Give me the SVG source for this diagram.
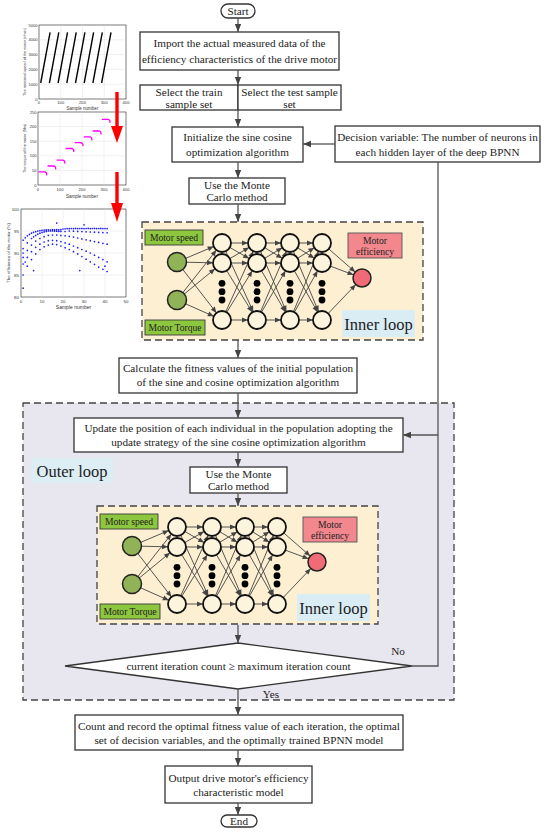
<svg xmlns="http://www.w3.org/2000/svg" xmlns:xlink="http://www.w3.org/1999/xlink" width="550" height="837" viewBox="0 0 550 837">
<defs>
<style>
.box{fill:#fff;stroke:#333;stroke-width:1.3}
.t{font-family:"Liberation Serif","Times New Roman",serif;font-size:11.2px;fill:#222;text-anchor:middle}
.big{font-size:16.5px}
.sm{font-size:9.6px}
.conn{stroke:#555;stroke-width:1.3;fill:none}
.arrowed{marker-end:url(#arr)}
.dash{stroke:#444;stroke-width:1.3;stroke-dasharray:7 4}
.nnl line{stroke:#444;stroke-width:0.9}
.nnl{marker-end:url(#nnArr)}
.hid{fill:#fdf4de;stroke:#111;stroke-width:1.8}
.ax{fill:#fff;stroke:#222;stroke-width:0.6}
.grid{stroke:#d8d8d8;stroke-width:0.4;fill:none}
.ct{font-family:"Liberation Sans",Arial,sans-serif;font-size:4.1px;fill:#333}
.ctr{text-anchor:end}
.ctm{text-anchor:middle}
</style>
<marker id="arr" viewBox="0 0 8 8" refX="8" refY="4" markerWidth="8" markerHeight="8" markerUnits="userSpaceOnUse" orient="auto" overflow="visible">
<path d="M0,0.8 L8,4 L0,7.2 z" fill="#444"/>
</marker>
<marker id="nnArr" viewBox="0 0 6 5" refX="15" refY="2.5" markerWidth="6" markerHeight="5" markerUnits="userSpaceOnUse" orient="auto" overflow="visible">
<path d="M0,0 L6,2.5 L0,5 z" fill="#444"/>
</marker>
<g id="nnbox">
<rect x="142" y="222" width="281" height="118" fill="#fcefd2" class="dash"/>
<g class="nnl">
<line x1="177" y1="262" x2="222" y2="243"/><line x1="177" y1="262" x2="222" y2="263"/><line x1="177" y1="262" x2="222" y2="320"/>
<line x1="177" y1="300" x2="222" y2="243"/><line x1="177" y1="300" x2="222" y2="263"/><line x1="177" y1="300" x2="222" y2="320"/>
<line x1="222" y1="243" x2="257" y2="243"/><line x1="222" y1="243" x2="257" y2="263"/><line x1="222" y1="243" x2="257" y2="320"/>
<line x1="222" y1="263" x2="257" y2="243"/><line x1="222" y1="263" x2="257" y2="263"/><line x1="222" y1="263" x2="257" y2="320"/>
<line x1="222" y1="320" x2="257" y2="243"/><line x1="222" y1="320" x2="257" y2="263"/><line x1="222" y1="320" x2="257" y2="320"/>
<line x1="257" y1="243" x2="290" y2="243"/><line x1="257" y1="243" x2="290" y2="263"/><line x1="257" y1="243" x2="290" y2="320"/>
<line x1="257" y1="263" x2="290" y2="243"/><line x1="257" y1="263" x2="290" y2="263"/><line x1="257" y1="263" x2="290" y2="320"/>
<line x1="257" y1="320" x2="290" y2="243"/><line x1="257" y1="320" x2="290" y2="263"/><line x1="257" y1="320" x2="290" y2="320"/>
<line x1="290" y1="243" x2="322" y2="243"/><line x1="290" y1="243" x2="322" y2="263"/><line x1="290" y1="243" x2="322" y2="320"/>
<line x1="290" y1="263" x2="322" y2="243"/><line x1="290" y1="263" x2="322" y2="263"/><line x1="290" y1="263" x2="322" y2="320"/>
<line x1="290" y1="320" x2="322" y2="243"/><line x1="290" y1="320" x2="322" y2="263"/><line x1="290" y1="320" x2="322" y2="320"/>
<line x1="322" y1="243" x2="362" y2="278"/><line x1="322" y1="263" x2="362" y2="278"/><line x1="322" y1="320" x2="362" y2="278"/>
</g>
<rect x="145" y="230" width="58" height="15" fill="#8dc63f" stroke="#3a3a3a" stroke-width="0.9"/>
<text class="t sm" x="174" y="241">Motor speed</text>
<rect x="145" y="320" width="60" height="15" fill="#8dc63f" stroke="#3a3a3a" stroke-width="0.9"/>
<text class="t sm" x="175" y="331">Motor Torque</text>
<rect x="348" y="233" width="54" height="25" fill="#f2878d" stroke="#555" stroke-width="0.9"/>
<text class="t sm" x="375" y="243.5">Motor</text>
<text class="t sm" x="375" y="255">efficiency</text>
<rect x="342" y="310" width="73" height="27" fill="#daedf4"/>
<text class="t big" x="378.5" y="329.5">Inner loop</text>
<circle cx="177" cy="262" r="9.5" fill="#8fb356" stroke="#222" stroke-width="1.5"/>
<circle cx="177" cy="300" r="9.5" fill="#8fb356" stroke="#222" stroke-width="1.5"/>
<g class="hid">
<circle cx="222" cy="243" r="9"/><circle cx="222" cy="263" r="9"/><circle cx="222" cy="320" r="9"/>
<circle cx="257" cy="243" r="9"/><circle cx="257" cy="263" r="9"/><circle cx="257" cy="320" r="9"/>
<circle cx="290" cy="243" r="9"/><circle cx="290" cy="263" r="9"/><circle cx="290" cy="320" r="9"/>
<circle cx="322" cy="243" r="9"/><circle cx="322" cy="263" r="9"/><circle cx="322" cy="320" r="9"/>
</g>
<g fill="#000">
<circle cx="222" cy="283.3" r="3.4"/><circle cx="222" cy="291.7" r="3.4"/><circle cx="222" cy="300" r="3.4"/>
<circle cx="257" cy="283.3" r="3.4"/><circle cx="257" cy="291.7" r="3.4"/><circle cx="257" cy="300" r="3.4"/>
<circle cx="290" cy="283.3" r="3.4"/><circle cx="290" cy="291.7" r="3.4"/><circle cx="290" cy="300" r="3.4"/>
<circle cx="322" cy="283.3" r="3.4"/><circle cx="322" cy="291.7" r="3.4"/><circle cx="322" cy="300" r="3.4"/>
</g>
<circle cx="362" cy="278" r="9" fill="#f06b75" stroke="#222" stroke-width="1.5"/>
</g>
</defs>
<rect width="550" height="837" fill="#fff"/>

<!-- charts -->
<g id="chart-speed">
<rect class="ax" x="39" y="25" width="87" height="74"/>
<path class="grid" d="M60.75,25V99M82.5,25V99M104.25,25V99M39,84.2H126M39,69.4H126M39,54.6H126M39,39.8H126"/>
<g stroke="#000" stroke-width="1.4">
<path d="M40.7,83L50.1,32.3M49.4,83L58.8,32.3M58.1,83L67.5,32.3M66.8,83L76.2,32.3M75.5,83L84.9,32.3M84.2,83L93.6,32.3M92.9,83L102.3,32.3M101.6,83L111,32.3"/>
</g>
<g class="ct ctr">
<text x="37.5" y="100.5">0</text><text x="37.5" y="85.7">1000</text><text x="37.5" y="70.9">2000</text><text x="37.5" y="56.1">3000</text><text x="37.5" y="41.3">4000</text><text x="37.5" y="26.5">5000</text>
</g>
<g class="ct ctm">
<text x="39" y="104">0</text><text x="60.75" y="104">100</text><text x="82.5" y="104">200</text><text x="104.25" y="104">300</text><text x="126" y="104">400</text>
<text x="82.5" y="109.5" style="font-size:4.5px">Sample number</text>
<text x="26" y="62" transform="rotate(-90 26 62)" style="font-size:3.8px">The rotational speed of the motor (r/min)</text>
</g>
</g>

<g id="chart-torque">
<rect class="ax" x="38" y="112" width="88" height="73"/>
<path class="grid" d="M60,112V185M82,112V185M104,112V185M38,170.4H126M38,155.8H126M38,141.2H126M38,126.6H126"/>
<path fill="none" stroke="#ff00ff" stroke-width="1.3" d="M38.5,171.9h6.5l1.5,1l0.3,2.5M47.5,166h6.5l1.5,1l0.3,2.5M56.6,160.2h6.5l1.5,1l0.3,2.5M65.6,148.5h6.5l1.5,1l0.3,2.5M74.7,142.7h6.5l1.5,1l0.3,2.5M83.7,136.8h6.5l1.5,1l0.3,2.5M92.8,131h6.5l1.5,1l0.3,2.5M101.8,119.3h6.5l1.5,1l0.3,2.5"/>
<g class="ct ctr">
<text x="36.5" y="186.5">0</text><text x="36.5" y="171.9">50</text><text x="36.5" y="157.3">100</text><text x="36.5" y="142.7">150</text><text x="36.5" y="128.1">200</text><text x="36.5" y="113.5">250</text>
</g>
<g class="ct ctm">
<text x="38" y="191">0</text><text x="60" y="191">100</text><text x="82" y="191">200</text><text x="104" y="191">300</text><text x="126" y="191">400</text>
<text x="82" y="197.5" style="font-size:4.5px">Sample number</text>
<text x="26" y="148.5" transform="rotate(-90 26 148.5)" style="font-size:3.8px">The torque of the motor (Nm)</text>
</g>
</g>

<g id="chart-eff">
<rect class="ax" x="21" y="209" width="105" height="88"/>
<path class="grid" d="M42,209V297M63,209V297M84,209V297M105,209V297M21,275H126M21,253H126M21,231H126"/>
<path fill="none" stroke="#1a1aff" stroke-width="1.7" stroke-linecap="round" d="M23.1,240.2h0M25.2,237.8h0M27.3,235.8h0M29.4,234.4h0M31.5,233.2h0M33.6,232.3h0M35.7,231.7h0M37.8,231.1h0M39.9,230.7h0M42,230.4h0M44.1,230.1h0M46.2,229.9h0M48.3,229.8h0M50.4,230h0M52.5,229.7h0M54.6,229.9h0M56.7,229.6h0M58.8,229.8h0M60.9,229.5h0M63,229h0M65.1,228.8h0M67.2,228.6h0M69.3,228.7h0M71.4,228.5h0M73.5,228.6h0M75.6,228.4h0M77.7,228.6h0M79.8,228.5h0M81.9,228.4h0M84,228.6h0M86.1,228.5h0M88.2,228.4h0M90.3,228.6h0M92.4,228.5h0M94.5,228.4h0M96.6,228.6h0M98.7,228.5h0M100.8,228.4h0M102.9,228.6h0M105,228.5h0M107.1,228.6h0
M23.1,248.6h0M27.3,242.9h0M31.5,238.5h0M35.7,235.4h0M39.9,233.2h0M44.1,231.9h0M48.3,231h0M52.5,231h0M56.7,231.2h0M60.9,231.4h0M65.1,231.5h0M69.3,231h0M73.5,231.2h0M77.7,231.4h0M81.9,231.6h0M86.1,231.8h0M90.3,232h0M94.5,232.2h0M98.7,232.4h0M102.9,232.6h0M107.1,232.8h0M33.6,236.8h0M37.8,234.2h0M42,232.5h0M46.2,231.4h0M50.4,231h0M54.6,231.1h0M58.8,231.3h0
M23.1,257.4h0M27.3,250.4h0M31.5,245.1h0M35.7,241.1h0M39.9,238.5h0M44.1,236.7h0M48.3,235.4h0M52.5,235h0M56.7,235h0M60.9,235.4h0M65.1,235.8h0M69.3,236.3h0M73.5,237.1h0M77.7,238h0M81.9,238.9h0M86.1,239.8h0M90.3,240.7h0M94.5,241.6h0M98.7,242.4h0M102.9,243.3h0M107.1,244.2h0
M23.1,264h0M27.3,257.4h0M31.5,251.7h0M35.7,247.3h0M39.9,244.2h0M44.1,242h0M48.3,240.7h0M52.5,240.3h0M56.7,240.7h0M60.9,241.6h0M65.1,242.9h0M69.3,244.2h0M73.5,246h0M77.7,247.7h0M81.9,249.5h0M86.1,251.2h0M90.3,253h0M94.5,255.2h0M98.7,257.4h0M102.9,259.6h0M107.1,261.8h0
M23.1,275h0M27.3,266.2h0M31.5,259.6h0M35.7,253.9h0M39.9,249.5h0M44.1,246.8h0M48.3,245.1h0M52.5,244.2h0M56.7,244.6h0M60.9,246h0M65.1,247.7h0M69.3,249.5h0M73.5,251.7h0M77.7,253.9h0M81.9,256.5h0M86.1,259.2h0M90.3,261.8h0M94.5,264.4h0M98.7,267.1h0M102.9,269.3h0M107.1,271.5h0
M23.1,288.2h0M33.6,270.6h0M79.8,270.6h0M56.7,223.1h0M84,224.8h0M105,266.2h0M23.1,253h0M25.2,262h0"/>
<g class="ct ctr" style="font-size:4.4px">
<text x="19" y="298.5">80</text><text x="19" y="276.5">85</text><text x="19" y="254.5">90</text><text x="19" y="232.5">95</text><text x="19" y="210.5">100</text>
</g>
<g class="ct ctm" style="font-size:4.4px">
<text x="21" y="302.5">0</text><text x="42" y="302.5">10</text><text x="63" y="302.5">20</text><text x="84" y="302.5">30</text><text x="105" y="302.5">40</text><text x="126" y="302.5">50</text>
<text x="73.5" y="308.5" style="font-size:5px">Sample number</text>
<text x="9.5" y="253" transform="rotate(-90 9.5 253)" style="font-size:4.4px">The efficiency of the motor (%)</text>
</g>
</g>

<g id="red-arrows" fill="#ff0000">
<rect x="115.3" y="92" width="3.4" height="36"/>
<polygon points="111,126 123,126 117,143"/>
<rect x="115.3" y="172" width="3.4" height="33"/>
<polygon points="111,203 123,203 117,222"/>
</g>

<!-- outer loop container -->
<g id="outer-loop">
<rect x="23" y="403" width="431" height="297" fill="#e8e6ef" class="dash"/>
<rect x="31" y="458" width="82" height="25" fill="#dcedf3"/>
<text class="t big" x="72" y="476.5">Outer loop</text>
</g>

<!-- nodes -->
<g id="start">
<rect x="221" y="4" width="34" height="14" rx="7" class="box"/>
<text class="t" x="238" y="15">Start</text>
</g>
<g id="import">
<rect x="140" y="32" width="199" height="38" class="box"/>
<text class="t" x="239.5" y="47">Import the actual measured data of the</text>
<text class="t" x="239.5" y="63">efficiency characteristics of the drive motor</text>
</g>
<g id="train">
<rect x="140" y="85" width="98" height="25" class="box"/>
<text class="t" x="189" y="95.5">Select the train</text>
<text class="t" x="189" y="107.5">sample set</text>
</g>
<g id="test">
<rect x="238" y="85" width="103" height="25" class="box"/>
<text class="t" x="289.5" y="95.5">Select the test sample</text>
<text class="t" x="289.5" y="107.5">set</text>
</g>
<g id="init">
<rect x="172" y="127" width="131" height="35" class="box"/>
<text class="t" x="237.5" y="141">Initialize the sine cosine</text>
<text class="t" x="237.5" y="156">optimization algorithm</text>
</g>
<g id="decision">
<rect x="335" y="126" width="205" height="36" class="box"/>
<text class="t" x="437.5" y="141">Decision variable: The number of neurons in</text>
<text class="t" x="437.5" y="156">each hidden layer of the deep BPNN</text>
</g>
<g id="mc1">
<rect x="189" y="178" width="96" height="26" class="box"/>
<text class="t" x="237" y="188.5">Use the Monte</text>
<text class="t" x="237" y="201">Carlo method</text>
</g>
<g id="nn1"><use xlink:href="#nnbox" href="#nnbox"/></g>
<g id="calc">
<rect x="119" y="358" width="238" height="35" class="box"/>
<text class="t" x="238" y="372">Calculate the fitness values of the initial population</text>
<text class="t" x="238" y="386">of the sine and cosine optimization algorithm</text>
</g>
<g id="update">
<rect x="74" y="418" width="329" height="34" class="box"/>
<text class="t" x="238.5" y="431.5">Update the position of each individual in the population adopting the</text>
<text class="t" x="238.5" y="445.5">update strategy of the sine cosine optimization algorithm</text>
</g>
<g id="mc2">
<rect x="190" y="467" width="97" height="26" class="box"/>
<text class="t" x="238.5" y="477.5">Use the Monte</text>
<text class="t" x="238.5" y="490">Carlo method</text>
</g>
<g id="nn2"><use xlink:href="#nnbox" href="#nnbox" transform="translate(-45,284)"/></g>
<g id="check">
<polygon points="65,666 238,643 412,666 238,689" class="box"/>
<text class="t" x="238.5" y="670">current iteration count ≥ maximum iteration count</text>
</g>
<g id="record">
<rect x="75" y="715" width="328" height="35" class="box"/>
<text class="t" x="239" y="729.5">Count and record the optimal fitness value of each iteration, the optimal</text>
<text class="t" x="239" y="743.5">set of decision variables, and the optimally trained BPNN model</text>
</g>
<g id="output">
<rect x="165" y="766" width="147" height="37" class="box"/>
<text class="t" x="238.5" y="781.5">Output drive motor's efficiency</text>
<text class="t" x="238.5" y="795.5">characteristic model</text>
</g>
<g id="end">
<rect x="221" y="815" width="36" height="12" rx="6" class="box"/>
<text class="t" x="239" y="825">End</text>
</g>

<!-- connectors -->
<g id="connectors" class="conn">
<path class="arrowed" d="M238,18V32"/>
<path class="arrowed" d="M238,70V85"/>
<path class="arrowed" d="M238,110V127"/>
<path class="arrowed" d="M238,162V178"/>
<path class="arrowed" d="M238,204V222"/>
<path class="arrowed" d="M238,340V358"/>
<path class="arrowed" d="M238,393V418"/>
<path class="arrowed" d="M238,452V467"/>
<path class="arrowed" d="M238,493V506"/>
<path class="arrowed" d="M238,625V643"/>
<path class="arrowed" d="M238,689V715"/>
<path class="arrowed" d="M238,750V766"/>
<path class="arrowed" d="M238,803V815"/>
<path class="arrowed" d="M335,144H303"/>
<path d="M412,666H438V162"/>
<path class="arrowed" d="M438,435H403"/>
</g>
<text class="t" x="398" y="655">No</text>
<text class="t" x="271" y="698">Yes</text>
</svg>
